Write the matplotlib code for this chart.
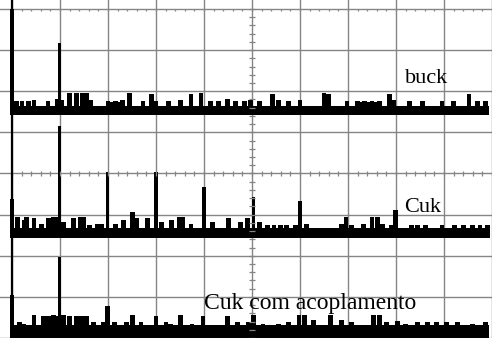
import numpy as np
import matplotlib
matplotlib.use('Agg')
import matplotlib.pyplot as plt

# screen in divisions: 10 horizontal, 8 vertical (oscilloscope grid)
N_XDIV = 10
N_YDIV = 8

# --- buck spectrum (levels in divisions) ---
buck_floor = (5.41, 5.65)
buck_dc = 8.0
buck_x = [0.10, 0.21, 0.35, 0.46, 0.75, 0.95, 0.99, 1.04, 1.20, 1.35, 1.47, 1.55,
          1.64, 2.00, 2.08, 2.15, 2.23, 2.30, 2.45, 2.73, 2.90, 3.00, 3.27, 3.52,
          3.73, 3.94, 4.14, 4.31, 4.49, 4.66, 4.84, 4.97, 5.15, 5.42, 5.55, 5.76,
          6.00, 6.50, 6.60, 6.98, 7.20, 7.28, 7.35, 7.43, 7.50, 7.58, 7.65, 7.86,
          7.95, 8.28, 8.55, 8.96, 9.19, 9.52, 9.70, 9.86]
buck_y = [5.76, 5.76, 5.76, 5.78, 5.76, 5.80, 7.18, 5.78, 5.95, 5.95, 5.95, 5.95,
          5.78, 5.76, 5.74, 5.76, 5.74, 5.78, 5.95, 5.76, 5.92, 5.76, 5.76, 5.78,
          5.92, 5.95, 5.76, 5.76, 5.80, 5.76, 5.76, 5.78, 5.76, 5.92, 5.78, 5.76,
          5.78, 5.95, 5.92, 5.76, 5.76, 5.74, 5.76, 5.74, 5.76, 5.74, 5.76, 5.92,
          5.78, 5.76, 5.76, 5.76, 5.76, 5.92, 5.76, 5.76]

# --- Cuk spectrum ---
cuk_floor = (2.42, 2.68)
cuk_dc = 3.38
cuk_x = [0.12, 0.25, 0.31, 0.46, 0.62, 0.77, 0.87, 0.93, 0.99, 1.08, 1.28, 1.43,
         1.49, 1.61, 1.78, 1.86, 1.99, 2.15, 2.32, 2.51, 2.59, 2.82, 3.00, 3.12,
         3.33, 3.48, 3.56, 3.73, 4.00, 4.17, 4.51, 4.76, 4.90, 5.03, 5.15, 5.32,
         5.46, 5.60, 5.72, 5.90, 6.00, 6.13, 6.87, 6.96, 7.08, 7.33, 7.50, 7.62,
         7.72, 7.91, 7.99, 8.32, 8.45, 8.62, 8.96, 9.22, 9.40, 9.60, 9.75, 9.90]
cuk_y = [2.95, 2.86, 2.95, 2.91, 2.78, 2.91, 2.95, 2.95, 5.15, 2.83, 2.91, 2.95,
         2.95, 2.74, 2.78, 2.78, 4.04, 2.78, 2.86, 3.07, 2.91, 2.91, 4.04, 2.83,
         2.86, 2.95, 2.95, 2.78, 3.68, 2.83, 2.91, 2.83, 2.91, 3.43, 2.83, 2.74,
         2.74, 2.74, 2.74, 2.74, 3.34, 2.78, 2.78, 2.95, 2.74, 2.78, 2.95, 2.95,
         2.78, 2.74, 3.10, 2.74, 2.74, 2.74, 2.74, 2.74, 2.74, 2.74, 2.74, 2.74]

# --- Cuk com acoplamento ---
acop_floor = (0.0, 0.32)
acop_dc = 1.05
acop_x = [0.15, 0.25, 0.46, 0.66, 0.77, 0.87, 0.95, 0.99, 1.08, 1.20, 1.35, 1.45,
          1.55, 1.70, 1.90, 1.99, 2.13, 2.38, 2.51, 2.69, 3.00, 3.21, 3.31, 3.52,
          3.75, 3.98, 4.49, 4.70, 4.93, 5.03, 5.23, 5.55, 5.76, 5.98, 6.10, 6.29,
          6.63, 6.87, 7.08, 7.22, 7.54, 7.65, 7.80, 8.03, 8.20, 8.45, 8.65, 8.85,
          9.05, 9.28, 9.60, 9.86]
acop_y = [0.39, 0.34, 0.56, 0.54, 0.54, 0.56, 0.54, 1.96, 0.56, 0.54, 0.54, 0.54,
          0.54, 0.39, 0.39, 0.78, 0.39, 0.39, 0.56, 0.39, 0.54, 0.39, 0.34, 0.56,
          0.34, 0.54, 0.54, 0.39, 0.39, 0.56, 0.34, 0.34, 0.39, 0.56, 0.56, 0.44,
          0.56, 0.44, 0.39, 0.32, 0.56, 0.56, 0.39, 0.42, 0.34, 0.39, 0.39, 0.39,
          0.39, 0.39, 0.34, 0.39]

labels = ['buck', 'Cuk', 'Cuk com acoplamento']
label_pos = [(8.18, 6.21), (8.18, 3.07), (4.00, 0.71)]
label_size = [16, 16, 17]

fig = plt.figure(figsize=(4.92, 3.38), dpi=100)
ax = fig.add_axes([0, 0, 1, 1])
ax.set_xlim(-0.248, 9.94)
ax.set_ylim(0.053, 8.217)
for s in ax.spines.values():
    s.set_visible(False)
ax.set_xticks(range(0, N_XDIV + 1))
ax.set_yticks(range(0, N_YDIV + 1))
ax.tick_params(length=0, labelbottom=False, labelleft=False)
ax.grid(color='#858585', lw=1.0)
ax.set_axisbelow(True)

# minor ticks on the centre lines and on the top border
grid_c = '#858585'
ax.hlines(np.arange(0, N_YDIV + 0.01, 0.2), 5 - 0.06, 5 + 0.06, color=grid_c, lw=0.9)
ax.vlines(np.arange(0, N_XDIV + 0.01, 0.2), 4 - 0.07, 4 + 0.07, color=grid_c, lw=0.9)
ax.vlines(np.arange(0, N_XDIV + 0.01, 0.2), 8 - 0.05, 8, color=grid_c, lw=0.9)

# left border
ax.axvline(0, color='black', lw=1.6)

traces = [(buck_floor, buck_dc, buck_x, buck_y),
          (cuk_floor, cuk_dc, cuk_x, cuk_y),
          (acop_floor, acop_dc, acop_x, acop_y)]
for (fb, ft), dc, xs, ys in traces:
    ax.fill_between([0, 9.94], fb, ft, color='black', lw=0)
    xs = np.array(xs)
    ys = np.array(ys)
    tall = (ys - ft) > 0.5
    # noise bumps are wider plateaus, harmonics are narrow spikes
    ax.bar(xs[~tall], ys[~tall] - fb, bottom=fb, width=0.1, color='black', lw=0)
    ax.bar(xs[tall], ys[tall] - fb, bottom=fb, width=0.07, color='black', lw=0)
    ax.bar([0.0], [dc - fb], bottom=fb, width=0.08, color='black', lw=0)

for lab, (lx, ly), fs in zip(labels, label_pos, label_size):
    ax.text(lx, ly, lab, family='Liberation Serif', fontsize=fs,
            ha='left', va='baseline', color='black')

fig.savefig('out.png', dpi=100)
